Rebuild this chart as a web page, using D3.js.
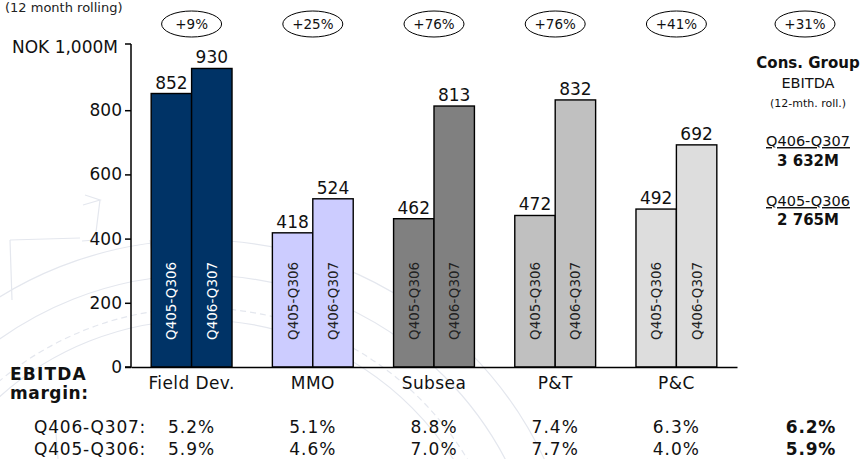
<!DOCTYPE html>
<html>
<head>
<meta charset="utf-8">
<script src="https://cdn.jsdelivr.net/npm/d3@7"></script>
<style>
  body { margin: 0; background: #fff; }
  svg { display: block; font-family: "DejaVu Sans", Verdana, sans-serif; }
</style>
</head>
<body>
<svg id="chart" width="868" height="459"></svg>
<script>
// Data
const categories = ["Field Dev.", "MMO", "Subsea", "P&T", "P&C"];
const periods = ["Q405-Q306", "Q406-Q307"];
const prevValues = [852, 418, 462, 472, 492];
const currValues = [930, 524, 813, 832, 692];
const growth = ["+9%", "+25%", "+76%", "+76%", "+41%"];
const groupGrowth = "+31%";
const marginCurr = ["5.2%", "5.1%", "8.8%", "7.4%", "6.3%"];
const marginPrev = ["5.9%", "4.6%", "7.0%", "7.7%", "4.0%"];
const groupMarginCurr = "6.2%";
const groupMarginPrev = "5.9%";
const groupCurr = "3 632M";
const groupPrev = "2 765M";
const yTicks = [0, 200, 400, 600, 800];

const colors = ["#003366", "#ccccff", "#808080", "#c0c0c0", "#dddddd"];
const innerText = ["#ffffff", "#222222", "#222222", "#222222", "#222222"];

const svg = d3.select("#chart");

// faint watermark (compass drawing) in the background
const wm = svg.append("g").attr("fill", "none").attr("stroke", "#e4e7ee").attr("stroke-width", 1.2);
[300, 312, 345, 380].forEach((r, i) => {
    wm.append("circle").attr("cx", 200).attr("cy", 620).attr("r", r)
        .attr("stroke-dasharray", i === 1 ? "6,4" : null);
});
wm.append("path").attr("d", "M10,240 L12,300 M10,240 L80,238 M55,420 L58,459 M100,200 L95,240 L82,241 M85,195 L100,200 L83,205 M165,330 L150,240 M185,255 L170,340");

// Scales
const x = d3.scaleBand().domain(categories).range([131, 737]).paddingInner(0.333).paddingOuter(0.1665);
const xSub = d3.scaleBand().domain(periods).range([0, x.bandwidth()]);
const y = d3.scaleLinear().domain([0, 1000]).range([367, 46]);

// title remnant from the slide
svg.append("text").attr("x", 5).attr("y", 12).attr("font-size", 13).attr("fill", "#222")
    .text("(12 month rolling)");

svg.append("text").attr("x", 12).attr("y", 53).attr("font-size", 17).attr("fill", "#111")
    .text("NOK 1,000M");

// Bars
const rows = categories.map((c, i) => ({cat: c, i: i, vals: [prevValues[i], currValues[i]]}));
const groups = svg.append("g").selectAll("g").data(rows).join("g")
    .attr("transform", d => `translate(${x(d.cat)},0)`);

groups.selectAll("rect").data(d => d.vals.map((v, k) => ({v: v, p: periods[k], i: d.i}))).join("rect")
    .attr("x", d => xSub(d.p))
    .attr("y", d => y(d.v))
    .attr("width", xSub.bandwidth())
    .attr("height", d => y(0) - y(d.v))
    .attr("fill", d => colors[d.i])
    .attr("stroke", "#000")
    .attr("stroke-width", 1.4);

groups.selectAll("text.val").data(d => d.vals.map((v, k) => ({v: v, p: periods[k]}))).join("text")
    .attr("class", "val")
    .attr("x", d => xSub(d.p) + xSub.bandwidth() / 2)
    .attr("y", d => y(d.v) - 5)
    .attr("text-anchor", "middle")
    .attr("font-size", 17)
    .attr("fill", "#111")
    .text(d => d.v);

groups.selectAll("text.per").data(d => periods.map(p => ({p: p, i: d.i}))).join("text")
    .attr("class", "per")
    .attr("transform", d => `translate(${xSub(d.p) + xSub.bandwidth() / 2 + 5},${y(0) - 27}) rotate(-90)`)
    .attr("font-size", 13.5)
    .attr("fill", d => innerText[d.i])
    .text(d => d.p);

// Axes
const yAxis = svg.append("g").attr("transform", "translate(131,0)")
    .call(d3.axisLeft(y).tickValues(yTicks).tickSize(6).tickPadding(3));
yAxis.select(".domain").attr("d", `M-6,${y(0)}H0V${y(1000) - 2}`).attr("stroke-width", 1.5);
yAxis.selectAll(".tick line").attr("stroke-width", 1.5);
yAxis.selectAll("text").attr("font-size", 17).attr("fill", "#111").attr("font-family", "DejaVu Sans, Verdana, sans-serif");
// stub tick at the top of the axis
svg.append("line").attr("x1", 125).attr("x2", 131).attr("y1", y(1000) - 2).attr("y2", y(1000) - 2)
    .attr("stroke", "#000").attr("stroke-width", 1.5);

const xAxis = svg.append("g").attr("transform", `translate(0,${y(0)})`)
    .call(d3.axisBottom(x).tickSize(0).tickPadding(10));
xAxis.select(".domain").attr("stroke-width", 1.5);
xAxis.selectAll("text").attr("font-size", 17).attr("letter-spacing", 0.4).attr("fill", "#111")
    .attr("font-family", "DejaVu Sans, Verdana, sans-serif");

// growth ellipses
const ellX = categories.map(c => x(c) + x.bandwidth() / 2).concat([805]);
const ellT = growth.concat([groupGrowth]);
const ell = svg.append("g").selectAll("g").data(ellT).join("g")
    .attr("transform", (d, i) => `translate(${ellX[i]},24)`);
ell.append("ellipse").attr("rx", 30).attr("ry", 13).attr("fill", "none").attr("stroke", "#000").attr("stroke-width", 1);
ell.append("text").attr("y", 5).attr("text-anchor", "middle").attr("font-size", 13.5).attr("fill", "#111").text(d => d);

// right panel
const rp = svg.append("g").attr("text-anchor", "middle").attr("fill", "#111");
rp.append("text").attr("x", 808).attr("y", 68).attr("font-size", 15).attr("font-weight", "bold").text("Cons. Group");
rp.append("text").attr("x", 808).attr("y", 88).attr("font-size", 14.5).text("EBITDA");
rp.append("text").attr("x", 808).attr("y", 107).attr("font-size", 11).text("(12-mth. roll.)");
rp.append("text").attr("x", 808).attr("y", 146).attr("font-size", 14.5).attr("text-decoration", "underline").text(periods[1]);
rp.append("text").attr("x", 808).attr("y", 166).attr("font-size", 15).attr("font-weight", "bold").text(groupCurr);
rp.append("text").attr("x", 808).attr("y", 206).attr("font-size", 14.5).attr("text-decoration", "underline").text(periods[0]);
rp.append("text").attr("x", 808).attr("y", 225).attr("font-size", 15).attr("font-weight", "bold").text(groupPrev);

// EBITDA margin table
svg.append("text").attr("x", 10).attr("y", 380).attr("font-size", 17).attr("letter-spacing", 1.2)
    .attr("font-weight", "bold").attr("fill", "#111").text("EBITDA");
svg.append("text").attr("x", 10).attr("y", 399).attr("font-size", 17).attr("letter-spacing", 0.6)
    .attr("font-weight", "bold").attr("fill", "#111").text("margin:");

const tableRows = [
    {label: "Q406-Q307:", vals: marginCurr, total: groupMarginCurr, yy: 433},
    {label: "Q405-Q306:", vals: marginPrev, total: groupMarginPrev, yy: 455}
];
tableRows.forEach(r => {
    svg.append("text").attr("x", 34).attr("y", r.yy).attr("font-size", 17).attr("letter-spacing", 0.8)
        .attr("fill", "#111").text(r.label);
    svg.append("g").selectAll("text").data(r.vals).join("text")
        .attr("x", (d, i) => x(categories[i]) + x.bandwidth() / 2)
        .attr("y", r.yy).attr("text-anchor", "middle").attr("font-size", 17).attr("letter-spacing", 1)
        .attr("fill", "#111").text(d => d);
    svg.append("text").attr("x", 811).attr("y", r.yy).attr("text-anchor", "middle").attr("font-size", 17)
        .attr("letter-spacing", 0.8).attr("font-weight", "bold").attr("fill", "#111").text(r.total);
});
</script>
</body>
</html>
